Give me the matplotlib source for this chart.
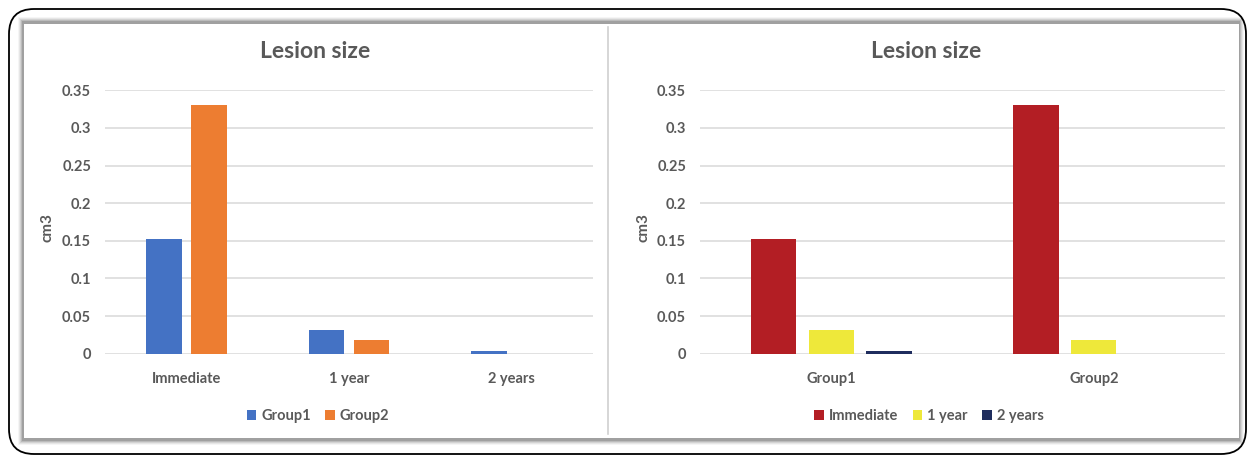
import matplotlib
matplotlib.use("Agg")
import matplotlib.pyplot as plt
import numpy as np
from matplotlib.patches import FancyBboxPatch, Rectangle
from matplotlib.lines import Line2D

# ---- data ----
timepoints = ["Immediate", "1 year", "2 years"]
groups = ["Group1", "Group2"]
group1_vals = [0.152, 0.032, 0.003]
group2_vals = [0.330, 0.018, 0.0]
yticks = [0, 0.05, 0.1, 0.15, 0.2, 0.25, 0.3, 0.35]
ytick_labels = ["0", "0.05", "0.1", "0.15", "0.2", "0.25", "0.3", "0.35"]
title = "Lesion size"
ylabel = "cm3"

left_colors = ["#4472C4", "#ED7D31"]
right_colors = ["#B31E24", "#EEE83A", "#1F2D5E"]

plt.rcParams['font.family'] = ['Lato', 'DejaVu Sans']
TXT = "#595959"
GRID = "#D9D9D9"

W, H = 1249, 457
fig = plt.figure(figsize=(W / 100, H / 100), dpi=100)
fig.patch.set_facecolor("white")

def fx(px):
    return px / W

def fy(py):
    return 1 - py / H

# outer rounded border
border = FancyBboxPatch((fx(9), fy(454)), fx(1237), (445) / H,
                        boxstyle="round,pad=0,rounding_size=0.02",
                        transform=fig.transFigure, fill=False,
                        edgecolor="black", linewidth=1.3, mutation_aspect=W / H, zorder=-5)
fig.patches.append(border)

# shadow around inner panel
for i, a in enumerate([0.04, 0.06, 0.08, 0.11, 0.14]):
    off = 5 - i
    r = Rectangle((fx(22 - off + 1), fy(440 + off)), fx(1218 + 2 * off - 2), (418 + 2 * off) / H,
                  transform=fig.transFigure, facecolor="black", alpha=a, edgecolor="none",
                  zorder=-4)
    fig.patches.append(r)
panel = Rectangle((fx(24), fy(438)), fx(1215), 414 / H, transform=fig.transFigure,
                  facecolor="white", edgecolor="none", zorder=-3)
fig.patches.append(panel)
# divider
fig.add_artist(Line2D([fx(608), fx(608)], [fy(27), fy(434)], transform=fig.transFigure,
                      color="#D0D0D0", linewidth=1.2, zorder=-2))

def style_axes(ax):
    ax.set_ylim(0, 0.35)
    ax.set_yticks(yticks)
    ax.set_yticklabels(ytick_labels)
    for s in ax.spines.values():
        s.set_visible(False)
    ax.tick_params(axis="both", length=0, colors=TXT, labelsize=10.5)
    ax.tick_params(axis="y", pad=10)
    ax.tick_params(axis="x", pad=13)
    ax.yaxis.grid(True, color=GRID, linewidth=1.1)
    ax.set_axisbelow(True)
    ax.set_facecolor("none")
    ax.set_zorder(5)
    for lab in ax.get_xticklabels() + ax.get_yticklabels():
        lab.set_fontweight("bold")

# ---- left chart ----
axL = fig.add_axes([fx(105), fy(353.7), fx(593 - 105), (353.7 - 90.3) / H])
x = np.arange(len(timepoints))
bw = 0.22
off = 0.138
axL.bar(x - off, group1_vals, bw, color=left_colors[0], label=groups[0], zorder=3)
axL.bar(x + off, group2_vals, bw, color=left_colors[1], label=groups[1], zorder=3)
axL.set_xlim(-0.5, len(timepoints) - 0.5)
axL.set_xticks(x)
axL.set_xticklabels(timepoints)
style_axes(axL)

# ---- right chart ----
axR = fig.add_axes([fx(700), fy(353.7), fx(1225 - 700), (353.7 - 90.3) / H])
xg = np.arange(len(groups))
series = list(zip(*[group1_vals, group2_vals]))  # per timepoint values across groups
bw2 = 0.173
step = 0.22
for i, (tp, vals) in enumerate(zip(timepoints, series)):
    axR.bar(xg + (i - 1) * step, vals, bw2, color=right_colors[i], label=tp, zorder=3)
axR.set_xlim(-0.5, len(groups) - 0.5)
axR.set_xticks(xg)
axR.set_xticklabels(groups)
style_axes(axR)

# titles
fig.text(fx(315), fy(51), title, ha="center", va="center", fontsize=16.5,
         fontweight="bold", color=TXT)
fig.text(fx(926), fy(51), title, ha="center", va="center", fontsize=16.5,
         fontweight="bold", color=TXT)
# y labels
fig.text(fx(47), fy(228), ylabel, rotation=90, ha="center", va="center",
         fontsize=11, fontweight="bold", color=TXT)
fig.text(fx(643), fy(228), ylabel, rotation=90, ha="center", va="center",
         fontsize=11, fontweight="bold", color=TXT)

# legends
legkw = dict(loc="center", ncol=3, frameon=False, handlelength=0.65, handleheight=0.65,
             handletextpad=0.35, columnspacing=1.0, labelcolor=TXT,
             prop={"weight": "bold", "size": 10.5})
hL, lL = axL.get_legend_handles_labels()
fig.legend(hL, lL, bbox_to_anchor=(fx(318), fy(416)), bbox_transform=fig.transFigure, **legkw)
hR, lR = axR.get_legend_handles_labels()
fig.legend(hR, lR, bbox_to_anchor=(fx(929), fy(416)), bbox_transform=fig.transFigure, **legkw)

fig.savefig("out.png", dpi=100, facecolor="white")
